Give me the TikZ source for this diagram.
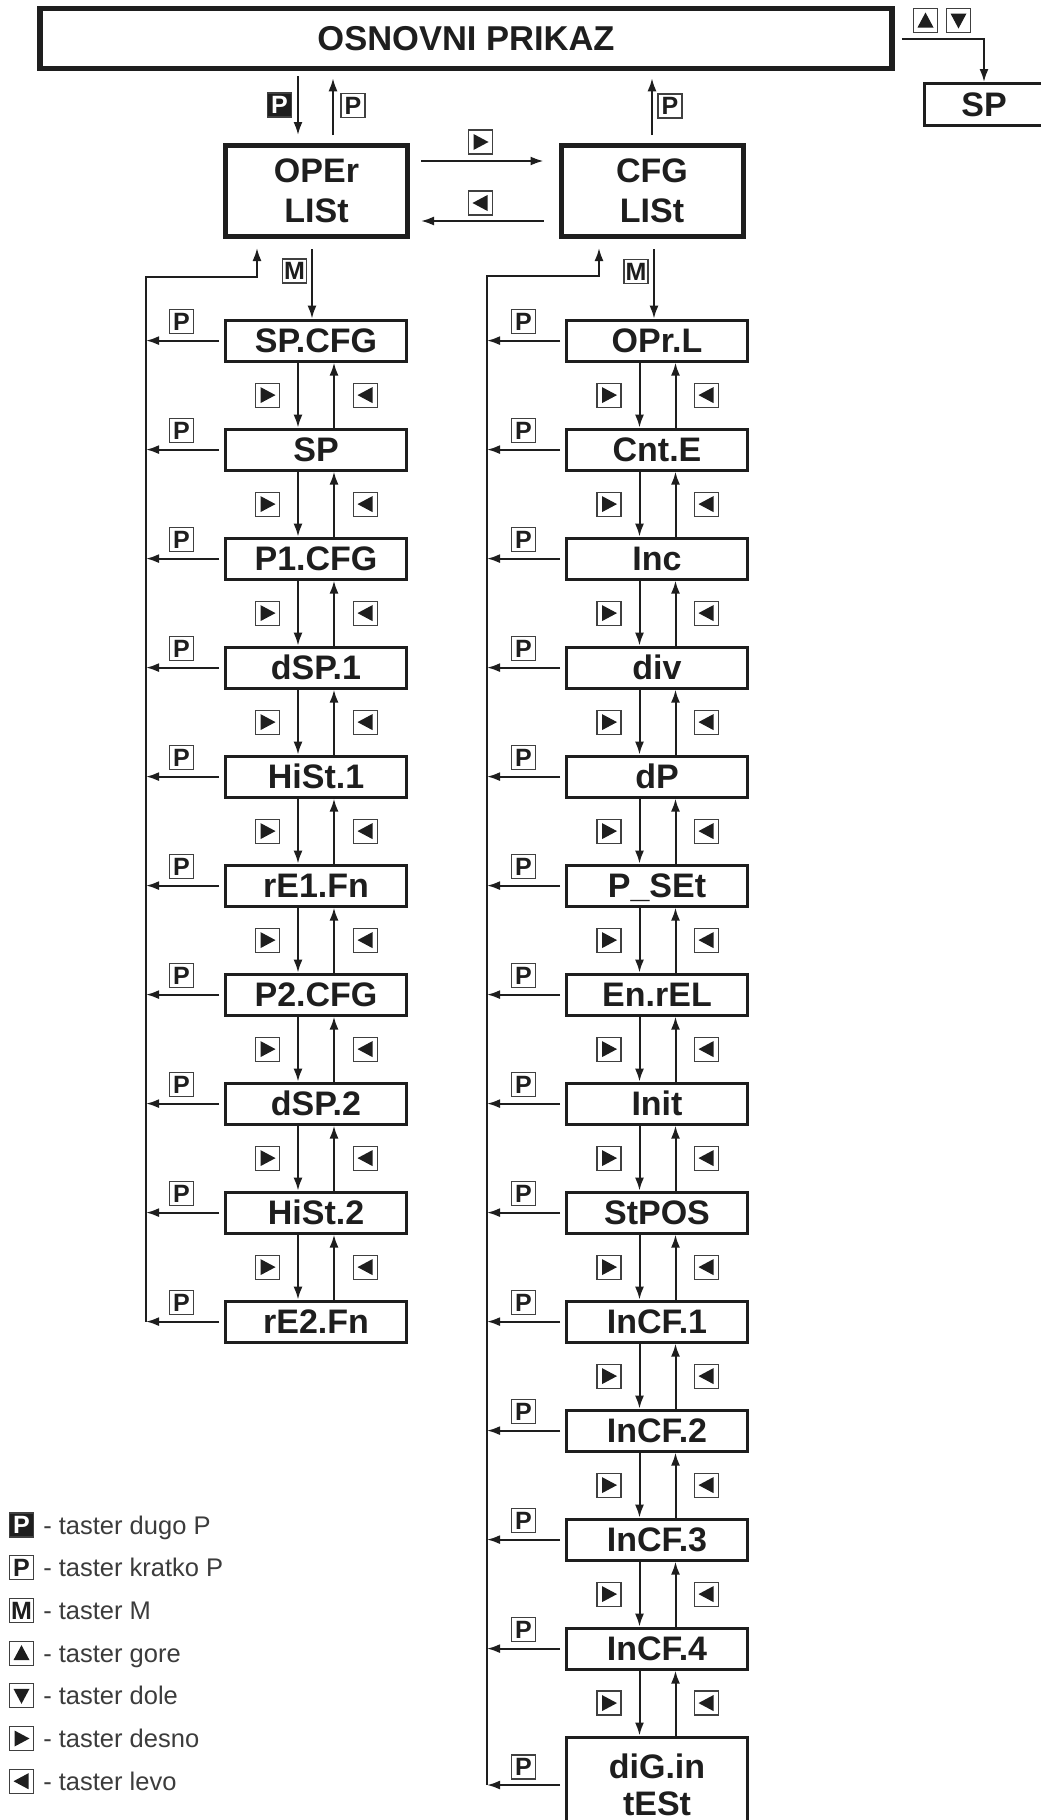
\documentclass[tikz,border=0pt]{standalone}
\usepackage{fontspec}
\setmainfont{Liberation Sans}
\usepackage{tikz}
\usetikzlibrary{arrows.meta,positioning}
\definecolor{ink}{RGB}{30,30,30}
\definecolor{legendgray}{RGB}{60,60,60}

\tikzset{
  menubox/.style={draw=ink,line width=3pt,minimum width=181pt,minimum height=41pt,inner sep=0pt,
    text=ink,font=\bfseries\fontsize{34}{38}\selectfont,text height=24.3pt,text depth=0pt},
  listbox/.style={draw=ink,line width=5pt,minimum width=182pt,minimum height=91pt,inner sep=0pt,
    text=ink,align=center,font=\bfseries\fontsize{34}{40}\selectfont},
  keybox/.style={draw=ink!85,line width=1.2pt,minimum size=24pt,inner sep=0pt,
    text=ink,font=\bfseries\fontsize{25}{25}\selectfont},
  keyfill/.style={keybox,fill=ink,text=white},
  keyright/.style={keybox,path picture={\fill[ink] ([xshift=-7pt,yshift=8pt]path picture bounding box.center)
    -- ++(15pt,-8pt) -- ++(-15pt,-8pt) -- cycle;}},
  keyleft/.style={keybox,path picture={\fill[ink] ([xshift=7pt,yshift=8pt]path picture bounding box.center)
    -- ++(-15pt,-8pt) -- ++(15pt,-8pt) -- cycle;}},
  keyup/.style={keybox,path picture={\fill[ink] ([xshift=-8pt,yshift=-7pt]path picture bounding box.center)
    -- ++(16pt,0pt) -- ++(-8pt,15pt) -- cycle;}},
  keydown/.style={keybox,path picture={\fill[ink] ([xshift=-8pt,yshift=7pt]path picture bounding box.center)
    -- ++(16pt,0pt) -- ++(-8pt,-15pt) -- cycle;}},
  link/.style={draw=ink,line width=2pt,-{Latex[length=13pt,width=9pt]}},
  legendtext/.style={text=legendgray,font=\fontsize{25.5}{28}\selectfont,inner sep=0pt,
    text height=18.3pt,text depth=0pt},
}

\begin{document}
\begin{tikzpicture}[x=1pt,y=-1pt]
\fill[white] (0,0) rectangle (1041,1820);
\useasboundingbox (0,0) rectangle (1041,1820);

\node[listbox,minimum width=852pt,minimum height=60pt,line width=5.5pt,
  font=\bfseries\fontsize{34.5}{38}\selectfont] (main) at (466,38.5) {OSNOVNI PRIKAZ};
\node[listbox] (oper) at (316.5,191) {OPEr\\LISt};
\node[listbox] (cfg) at (652,191) {CFG\\LISt};
\node[menubox,minimum width=119pt,minimum height=42pt] (sp) at (984,104.5) {SP};

\coordinate (pdn) at ([xshift=-18.5pt]oper.north);
\coordinate (pup) at ([xshift=16.5pt]oper.north);
\draw[link,shorten <=5pt,shorten >=8pt] (pdn |- main.south) -- (pdn);
\draw[link,shorten <=8pt,shorten >=7pt] (pup) -- (pup |- main.south);
\node[keyfill] (plong) at (279.5,105) {P};
\node[keybox] (pshort) at (353,105.5) {P};
\draw[link,shorten <=8pt,shorten >=7pt] (cfg.north) -- (cfg.north |- main.south);
\node[keybox] (pcfg) at (670,106) {P};

\draw[link,shorten <=11pt,shorten >=15pt] ([yshift=30pt]oper.east) -- ([yshift=30pt]cfg.west);
\draw[link,shorten <=15pt,shorten >=11pt] ([yshift=-30pt]cfg.west) -- ([yshift=-30pt]oper.east);
\node[keyright] (kright) at (480.5,142) {};
\node[keyleft] (kleft) at (480.5,203) {};

\node[keyup] (kup) at (925.5,20.5) {};
\node[keydown] (kdown) at (958.5,20.5) {};
\draw[link,shorten <=7pt] (main.east) -| (sp.north);

\foreach \lbl [count=\i from 0] in {SP.CFG,SP,P1.CFG,dSP.1,HiSt.1,rE1.Fn,P2.CFG,dSP.2,HiSt.2,rE2.Fn} {
  \node[menubox] (L\i) at (316,{340.6+109*\i}) {\lbl};
  \coordinate (lb\i) at (146,{340.6+109*\i});
  \draw[link,shorten <=5pt] (L\i.west) -- (lb\i);
  \node[keybox] (lp\i) at (181.5,{321.6+109*\i}) {P};
}
\foreach \lbl [count=\i from 0] in {OPr.L,Cnt.E,Inc,div,dP,P\_SEt,En.rEL,Init,StPOS,InCF.1,InCF.2,InCF.3,InCF.4} {
  \node[menubox] (R\i) at (657,{340.6+109*\i}) {\lbl};
  \coordinate (rb\i) at (487,{340.6+109*\i});
  \draw[link,shorten <=5pt] (R\i.west) -- (rb\i);
  \node[keybox] (rp\i) at (523.5,{321.6+109*\i}) {P};
}
\node[listbox,minimum width=181pt,minimum height=95pt,line width=3pt,
  font=\bfseries\fontsize{34}{37}\selectfont] (R13) at (657,1784.5) {diG.in\\tESt};
\coordinate (rb13) at (487,1785);
\draw[link,shorten <=5pt] (R13.west |- rb13) -- (rb13);
\node[keybox] (rp13) at (523.5,1767) {P};

\foreach \i [evaluate=\i as \j using int(\i+1)] in {0,...,8} {
  \draw[link] ([xshift=-18pt]L\i.south) -- ([xshift=-18pt]L\j.north);
  \draw[link] ([xshift=18pt]L\j.north) -- ([xshift=18pt]L\i.south);
  \path (L\i.south) -- (L\j.north)
    node[midway,xshift=-48.5pt,keyright] (lr\i) {}
    node[midway,xshift=49.5pt,keyleft] (ll\i) {};
}
\foreach \i [evaluate=\i as \j using int(\i+1)] in {0,...,12} {
  \draw[link] ([xshift=-17.5pt]R\i.south) -- ([xshift=-17.5pt]R\j.north);
  \draw[link] ([xshift=18.5pt]R\j.north) -- ([xshift=18.5pt]R\i.south);
  \path (R\i.south) -- (R\j.north)
    node[midway,xshift=-48pt,keyright] (rr\i) {}
    node[midway,xshift=49.5pt,keyleft] (rl\i) {};
}

\coordinate (mleft) at ([xshift=-4.5pt]oper.south);
\draw[link,shorten <=10pt] (mleft) -- (mleft |- L0.north);
\node[keybox] (kml) at (294.5,271) {M};
\coordinate (mright) at ([xshift=2pt]cfg.south);
\draw[link,shorten <=10pt] (mright) -- (mright |- R0.north);
\node[keybox] (kmr) at (636,271.5) {M};

\coordinate (lcorner) at (146,277);
\draw[link,shorten >=9pt] (lb9) -- (lcorner) -| ([xshift=-59.5pt]oper.south);
\coordinate (rcorner) at (487,276);
\draw[link,shorten >=9pt] (rb13) -- (rcorner) -| ([xshift=-53pt]cfg.south);

\foreach \sty/\lbl/\txt [count=\i from 0] in {keyfill/P/taster dugo P,keybox/P/taster kratko P,
    keybox/M/taster M,keyup//taster gore,keydown//taster dole,keyright//taster desno,keyleft//taster levo} {
  \node[\sty] (ki\i) at (21.5,{1525+42.7*\i}) {\lbl};
  \node[legendtext,right=9pt of ki\i] (kt\i) {- \txt};
}
\end{tikzpicture}
\end{document}
